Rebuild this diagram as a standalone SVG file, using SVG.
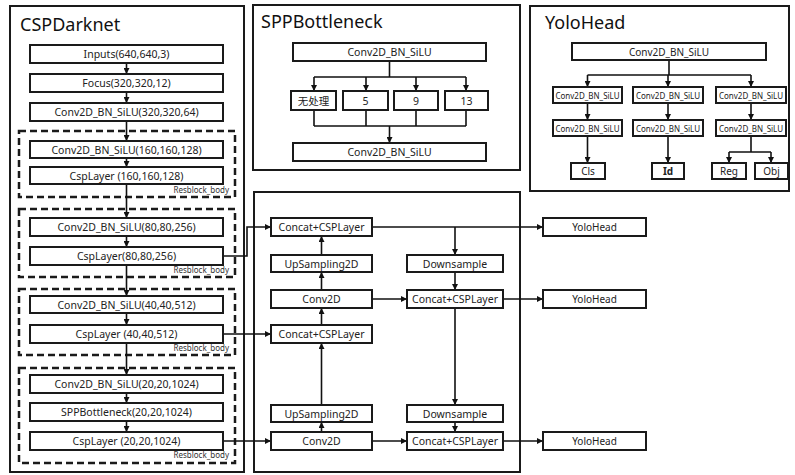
<svg xmlns="http://www.w3.org/2000/svg" width="795" height="475" viewBox="0 0 795 475">
<defs>
<marker id="ah" viewBox="0 0 6 6" refX="6" refY="3" markerWidth="6" markerHeight="6" markerUnits="userSpaceOnUse" orient="auto">
<path d="M0,0 L6,3 L0,6 Z" fill="#111"/>
</marker>
<style>
.panel{fill:#fff;stroke:#1a1a1a;stroke-width:2}
.box{fill:#fff;stroke:#1a1a1a;stroke-width:2}
.dash{fill:none;stroke:#1a1a1a;stroke-width:2.5;stroke-dasharray:7,4}
.t{font-family:"Noto Sans","Noto Sans CJK SC",sans-serif;font-size:10.5px;fill:#222;text-anchor:middle;dominant-baseline:central}
.s{font-size:8px}
.m{font-size:10px}
.title{font-family:"Noto Sans",sans-serif;font-size:18px;fill:#111}
.rb{font-family:"Noto Sans",sans-serif;font-size:8px;fill:#333;text-anchor:end}
.c{fill:none;stroke:#111;stroke-width:1.6}
.a{marker-end:url(#ah)}
</style>
</defs>
<rect width="795" height="475" fill="#fff"/>

<!-- panels -->
<g id="panel-cspdarknet">
<rect class="panel" x="10" y="6" width="234" height="466"/>
<text class="title" x="20" y="31">CSPDarknet</text>
</g>
<g id="panel-spp">
<rect class="panel" x="253" y="5" width="267" height="165"/>
<text class="title" x="261" y="28">SPPBottleneck</text>
</g>
<g id="panel-yolohead">
<rect class="panel" x="530" y="6" width="259" height="185"/>
<text class="title" x="545" y="29">YoloHead</text>
</g>
<g id="panel-neck">
<rect class="panel" x="254" y="192" width="266" height="280"/>
</g>

<!-- resblock dashed groups -->
<g id="resblock1"><rect class="dash" x="19" y="131" width="216" height="66"/><text class="rb" x="229" y="193">Resblock_body</text></g>
<g id="resblock2"><rect class="dash" x="19" y="209" width="216" height="68"/><text class="rb" x="229" y="273">Resblock_body</text></g>
<g id="resblock3"><rect class="dash" x="19" y="289" width="216" height="66"/><text class="rb" x="229" y="351">Resblock_body</text></g>
<g id="resblock4"><rect class="dash" x="19" y="368" width="216" height="95"/><text class="rb" x="229" y="458">Resblock_body</text></g>

<!-- connectors -->
<g id="connectors">
<!-- backbone -->
<path class="c a" d="M126.5,63 V74"/>
<path class="c a" d="M126.5,92 V103"/>
<path class="c a" d="M126.5,121 V141"/>
<path class="c a" d="M126.5,158 V167"/>
<path class="c a" d="M126.5,184 V218"/>
<path class="c a" d="M126.5,236 V247"/>
<path class="c a" d="M126.5,265 V296"/>
<path class="c a" d="M126.5,313 V325"/>
<path class="c a" d="M126.5,343 V375"/>
<path class="c a" d="M126.5,393 V403"/>
<path class="c a" d="M126.5,421 V432"/>
<!-- SPP -->
<path class="c" d="M389.5,61 V77 M314,77 H466"/>
<path class="c a" d="M314,77 V91"/>
<path class="c a" d="M366,77 V91"/>
<path class="c a" d="M416,77 V91"/>
<path class="c a" d="M466,77 V91"/>
<path class="c" d="M314,110 V126 M366,110 V126 M416,110 V126 M466,110 V126 M314,126 H466"/>
<path class="c a" d="M389.5,126 V143"/>
<!-- YoloHead -->
<path class="c" d="M669,60 V75 M587.5,75 H751"/>
<path class="c a" d="M587.5,75 V87"/>
<path class="c a" d="M668,75 V87"/>
<path class="c a" d="M751,75 V87"/>
<path class="c a" d="M587.5,103 V120"/>
<path class="c a" d="M668,103 V120"/>
<path class="c a" d="M751,103 V120"/>
<path class="c a" d="M587.5,136 V163"/>
<path class="c a" d="M668,136 V163"/>
<path class="c" d="M751,136 V152 M729,152 H771"/>
<path class="c a" d="M729,152 V163"/>
<path class="c a" d="M771,152 V163"/>
<!-- backbone to neck -->
<path class="c a" d="M223,256 H247 V227 H271"/>
<path class="c a" d="M223,334 H271"/>
<path class="c a" d="M223,441 H271"/>
<!-- neck -->
<path class="c a" d="M321.5,432 V422"/>
<path class="c a" d="M321.5,405 V343"/>
<path class="c a" d="M321.5,325 V308"/>
<path class="c a" d="M321.5,290 V272"/>
<path class="c a" d="M321.5,255 V236"/>
<path class="c a" d="M372,227 H543"/>
<path class="c a" d="M455,227 V255"/>
<path class="c a" d="M455,272 V290"/>
<path class="c a" d="M372,299 H407"/>
<path class="c a" d="M503,299 H543"/>
<path class="c a" d="M455,308 V405"/>
<path class="c a" d="M455,422 V432"/>
<path class="c a" d="M372,441 H407"/>
<path class="c a" d="M503,441 H543"/>
</g>

<!-- backbone nodes -->
<g id="inputs"><rect class="box" x="30" y="45" width="193" height="18"/><text class="t" x="126.5" y="54">Inputs(640,640,3)</text></g>
<g id="focus"><rect class="box" x="30" y="74" width="193" height="18"/><text class="t" x="126.5" y="83">Focus(320,320,12)</text></g>
<g id="conv320"><rect class="box" x="30" y="103" width="193" height="18"/><text class="t" x="126.5" y="112">Conv2D_BN_SiLU(320,320,64)</text></g>
<g id="conv160"><rect class="box" x="30" y="141" width="193" height="17"/><text class="t" x="126.5" y="149.5">Conv2D_BN_SiLU(160,160,128)</text></g>
<g id="csp160"><rect class="box" x="30" y="167" width="193" height="17"/><text class="t" x="126.5" y="175.5">CspLayer (160,160,128)</text></g>
<g id="conv80"><rect class="box" x="30" y="218" width="193" height="18"/><text class="t" x="126.5" y="227">Conv2D_BN_SiLU(80,80,256)</text></g>
<g id="csp80"><rect class="box" x="30" y="247" width="193" height="18"/><text class="t" x="126.5" y="256">CspLayer(80,80,256)</text></g>
<g id="conv40"><rect class="box" x="30" y="296" width="193" height="17"/><text class="t" x="126.5" y="304.5">Conv2D_BN_SiLU(40,40,512)</text></g>
<g id="csp40"><rect class="box" x="30" y="325" width="193" height="18"/><text class="t" x="126.5" y="334">CspLayer (40,40,512)</text></g>
<g id="conv20"><rect class="box" x="30" y="375" width="193" height="18"/><text class="t" x="126.5" y="384">Conv2D_BN_SiLU(20,20,1024)</text></g>
<g id="spp20"><rect class="box" x="30" y="403" width="193" height="18"/><text class="t" x="126.5" y="412">SPPBottleneck(20,20,1024)</text></g>
<g id="csp20"><rect class="box" x="30" y="432" width="193" height="18"/><text class="t" x="126.5" y="441">CspLayer (20,20,1024)</text></g>

<!-- SPP nodes -->
<g id="spp-conv-top"><rect class="box" x="293" y="43" width="193" height="18"/><text class="t" x="389.5" y="52">Conv2D_BN_SiLU</text></g>
<g id="spp-none"><rect class="box" x="291" y="91" width="45" height="19"/><text class="t" x="313.5" y="100.5">无处理</text></g>
<g id="spp-5"><rect class="box" x="343" y="91" width="45" height="19"/><text class="t" x="365.5" y="100.5">5</text></g>
<g id="spp-9"><rect class="box" x="394" y="91" width="44" height="19"/><text class="t" x="416" y="100.5">9</text></g>
<g id="spp-13"><rect class="box" x="445" y="91" width="43" height="19"/><text class="t" x="466.5" y="100.5">13</text></g>
<g id="spp-conv-bottom"><rect class="box" x="293" y="143" width="193" height="18"/><text class="t" x="389.5" y="152">Conv2D_BN_SiLU</text></g>

<!-- YoloHead nodes -->
<g id="yh-conv-top"><rect class="box" x="572" y="43" width="194" height="17"/><text class="t m" x="669" y="51.5">Conv2D_BN_SiLU</text></g>
<g id="yh-c1a"><rect class="box" x="553" y="87" width="69" height="16"/><text class="t s" x="587.5" y="95">Conv2D_BN_SiLU</text></g>
<g id="yh-c2a"><rect class="box" x="633" y="87" width="70" height="16"/><text class="t s" x="668" y="95">Conv2D_BN_SiLU</text></g>
<g id="yh-c3a"><rect class="box" x="716" y="87" width="70" height="16"/><text class="t s" x="751" y="95">Conv2D_BN_SiLU</text></g>
<g id="yh-c1b"><rect class="box" x="553" y="120" width="69" height="16"/><text class="t s" x="587.5" y="128">Conv2D_BN_SiLU</text></g>
<g id="yh-c2b"><rect class="box" x="633" y="120" width="70" height="16"/><text class="t s" x="668" y="128">Conv2D_BN_SiLU</text></g>
<g id="yh-c3b"><rect class="box" x="716" y="120" width="70" height="16"/><text class="t s" x="751" y="128">Conv2D_BN_SiLU</text></g>
<g id="yh-cls"><rect class="box" x="571" y="163" width="34" height="16"/><text class="t m" x="588" y="171">Cls</text></g>
<g id="yh-id"><rect class="box" x="652" y="163" width="32" height="16"/><text class="t m" x="668" y="171" font-weight="bold">Id</text></g>
<g id="yh-reg"><rect class="box" x="712" y="163" width="34" height="16"/><text class="t m" x="729" y="171">Reg</text></g>
<g id="yh-obj"><rect class="box" x="755" y="163" width="33" height="16"/><text class="t m" x="771.5" y="171">Obj</text></g>

<!-- Neck nodes -->
<g id="concat-top"><rect class="box" x="271" y="218" width="101" height="18"/><text class="t" x="321.5" y="227">Concat+CSPLayer</text></g>
<g id="upsample-top"><rect class="box" x="271" y="255" width="101" height="17"/><text class="t" x="321.5" y="263.5">UpSampling2D</text></g>
<g id="conv-mid"><rect class="box" x="271" y="290" width="101" height="18"/><text class="t" x="321.5" y="299">Conv2D</text></g>
<g id="concat-mid"><rect class="box" x="271" y="325" width="101" height="18"/><text class="t" x="321.5" y="334">Concat+CSPLayer</text></g>
<g id="upsample-bottom"><rect class="box" x="271" y="405" width="101" height="17"/><text class="t" x="321.5" y="413.5">UpSampling2D</text></g>
<g id="conv-bottom"><rect class="box" x="271" y="432" width="101" height="18"/><text class="t" x="321.5" y="441">Conv2D</text></g>
<g id="downsample-top"><rect class="box" x="407" y="255" width="96" height="17"/><text class="t" x="455" y="263.5">Downsample</text></g>
<g id="concat-right-mid"><rect class="box" x="407" y="290" width="96" height="18"/><text class="t" x="455" y="299">Concat+CSPLayer</text></g>
<g id="downsample-bottom"><rect class="box" x="407" y="405" width="96" height="17"/><text class="t" x="455" y="413.5">Downsample</text></g>
<g id="concat-right-bottom"><rect class="box" x="407" y="432" width="96" height="18"/><text class="t" x="455" y="441">Concat+CSPLayer</text></g>

<!-- outputs -->
<g id="yolohead-1"><rect class="box" x="543" y="218" width="103" height="18"/><text class="t m" x="594.5" y="227">YoloHead</text></g>
<g id="yolohead-2"><rect class="box" x="543" y="290" width="103" height="18"/><text class="t m" x="594.5" y="299">YoloHead</text></g>
<g id="yolohead-3"><rect class="box" x="543" y="432" width="103" height="18"/><text class="t m" x="594.5" y="441">YoloHead</text></g>
</svg>
